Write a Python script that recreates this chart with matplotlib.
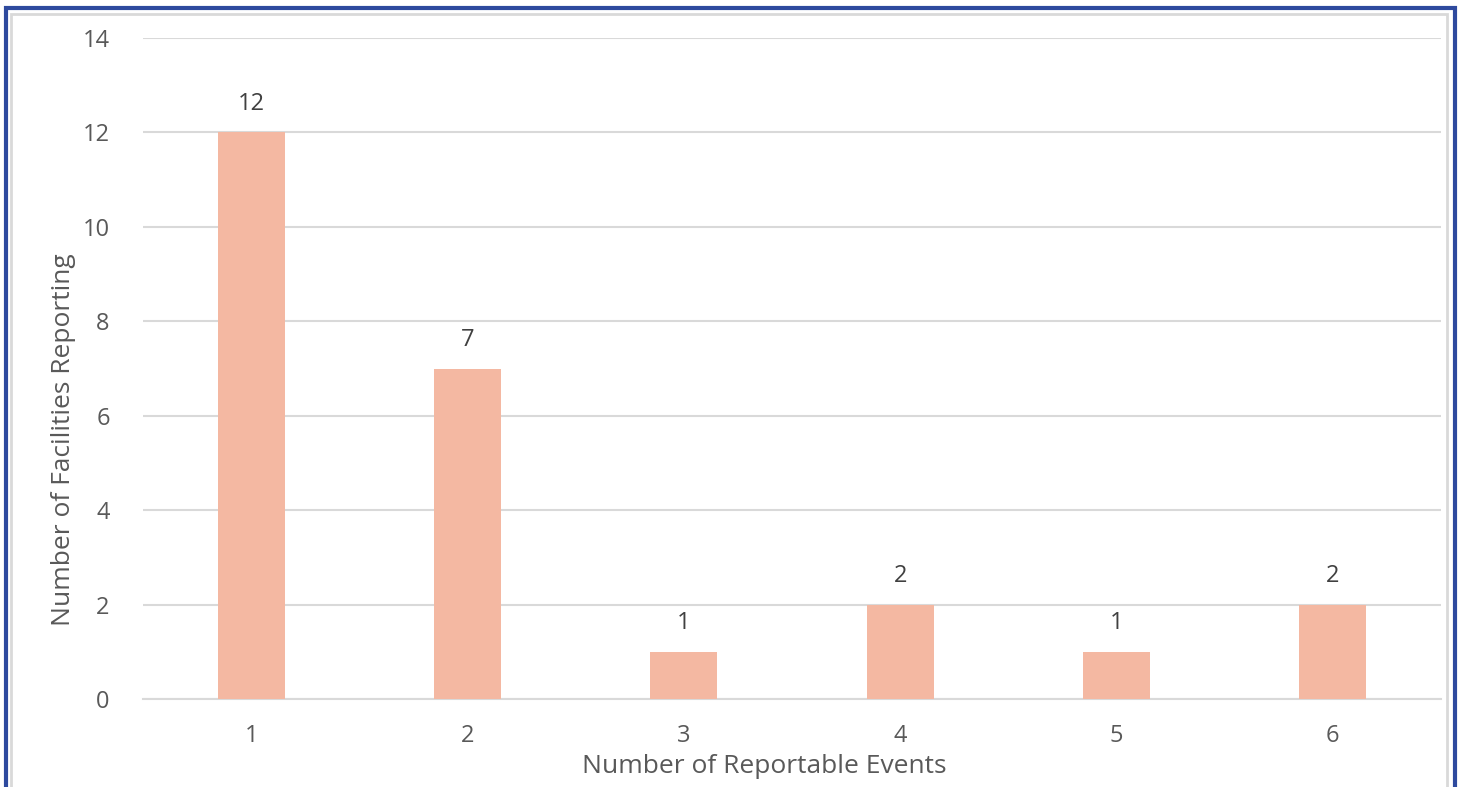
import matplotlib.pyplot as plt
from matplotlib.patches import Rectangle

events = [1, 2, 3, 4, 5, 6]
facilities = [12, 7, 1, 2, 1, 2]
yticks = [0, 2, 4, 6, 8, 10, 12, 14]

plt.rcParams['font.family'] = ['Open Sans', 'DejaVu Sans']

W, H = 1461, 787
fig = plt.figure(figsize=(W / 100, H / 100), dpi=100)
ax = fig.add_axes([143 / W, 1 - 699 / H, (1441 - 143) / W, (699 - 38) / H])

bars = ax.bar(events, facilities, width=0.31, color='#F4B8A2', zorder=3)
for b, v in zip(bars, facilities):
    ax.text(b.get_x() + b.get_width() / 2, v + 0.35, str(v), ha='center', va='bottom',
            fontsize=17, color='#404040')

ax.set_xlim(0.5, 6.5)
ax.set_ylim(0, 14)
ax.set_yticks(yticks)
ax.set_xticks(events)
ax.grid(axis='y', color='#D9D9D9', linewidth=1.5, zorder=0)
for s in ['top', 'right', 'left']:
    ax.spines[s].set_visible(False)
ax.spines['bottom'].set_color('#D9D9D9')
ax.spines['bottom'].set_linewidth(1.5)
ax.tick_params(length=0, labelsize=17, labelcolor='#595959')
ax.tick_params(axis='y', pad=24)
ax.tick_params(axis='x', pad=18)
ax.set_xlabel('Number of Reportable Events', fontsize=19, color='#595959')
ax.set_ylabel('Number of Facilities Reporting', fontsize=19, color='#595959')
ax.xaxis.set_label_coords(0.479, -0.083)
ax.yaxis.set_label_coords(-0.052, 0.393)

# outer frames
fig.patches.append(Rectangle((6 / W, -0.1), (1455 - 6) / W, 1.1 - 8 / H, transform=fig.transFigure,
                             fill=False, edgecolor='#2E4A9E', linewidth=3))
fig.patches.append(Rectangle((11 / W, -0.1), (1447 - 11) / W, 1.1 - 14 / H, transform=fig.transFigure,
                             fill=False, edgecolor='#D9D9D9', linewidth=2))

fig.savefig('out.png', dpi=100)
